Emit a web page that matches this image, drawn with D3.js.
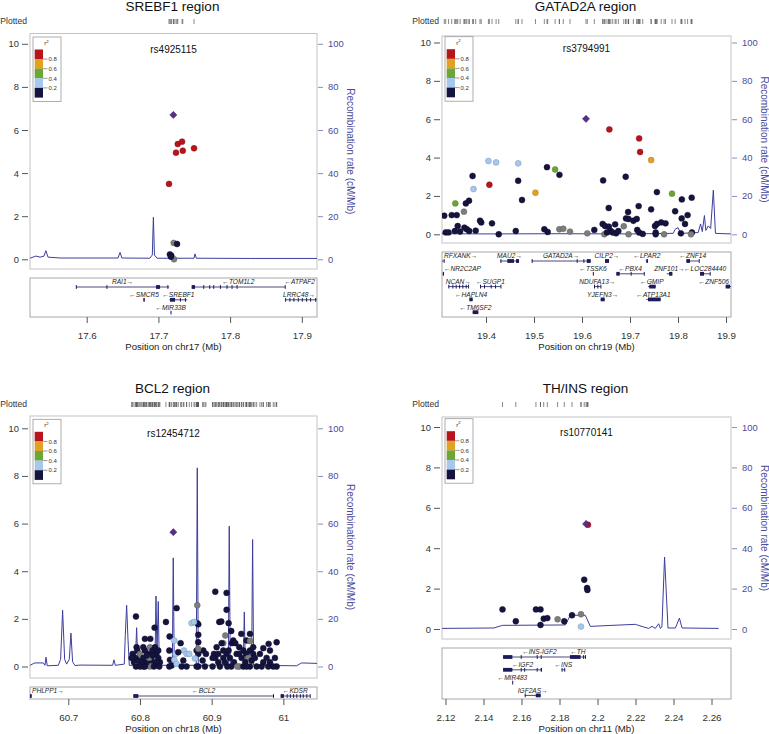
<!DOCTYPE html>
<html><head><meta charset="utf-8">
<script src="https://cdn.jsdelivr.net/npm/d3@7"></script>
<style>body{margin:0;background:#fff} svg{display:block;font-family:"Liberation Sans",Arial,Helvetica,sans-serif}</style>
</head><body><svg id="c" width="769" height="734"></svg>
<script>
// ---------------- DATA ----------------
const yTicks = [0, 2, 4, 6, 8, 10];
const yTickLabels = ["0", "2", "4", "6", "8", "10"];
const recTicks = [0, 20, 40, 60, 80, 100];
const recTickLabels = ["0", "20", "40", "60", "80", "100"];
const legendLabels = ["0.8", "0.6", "0.4", "0.2"];

// SREBF1 region (chr17)
const srebf1Pos  = [17.7148, 17.7245, 17.727, 17.733, 17.734, 17.7497, 17.7213, 17.726, 17.716, 17.718, 17.7218, 17.7175];
const srebf1LogP = [3.5, 4.95, 5.35, 5.46, 5.04, 5.15, 0.76, 0.71, 0.23, 0.17, 0.0, 0.12];
const srebf1R2   = [0.9, 0.9, 0.9, 0.9, 0.9, 0.9, null, 0.1, 0.1, 0.1, null, 0.1];
const srebf1Lead = [17.7208, 6.70];
const srebf1RecPos  = [17.521, 17.529, 17.535, 17.5405, 17.543, 17.546, 17.563, 17.6437, 17.6465, 17.649, 17.688, 17.6915, 17.693, 17.6945, 17.698, 17.7497, 17.751, 17.753, 17.828, 17.9215];
const srebf1RecRate = [0.5, 1.5, 1.0, 1.5, 4.0, 1.0, 0.6, 0.6, 3.2, 0.6, 0.5, 2.0, 19.5, 2.0, 0.5, 0.5, 2.5, 0.5, 0.4, 0.4];
const srebf1XTicks = [17.6, 17.7, 17.8, 17.9];
const srebf1XLabels = ["17.6", "17.7", "17.8", "17.9"];
const srebf1Genes = [
  {name: "RAI1", strand: "+", start: 17.5851, end: 17.7150, row: 0, exons: [[17.5848, 17.5856], [17.6275, 17.6281], [17.6967, 17.7023], [17.7125, 17.7133]]},
  {name: "TOM1L2", strand: "-", start: 17.7464, end: 17.8767, row: 0, exons: [[17.7464, 17.7511], [17.7625, 17.7630], [17.7708, 17.7713], [17.7765, 17.7770], [17.7858, 17.7863], [17.7950, 17.7955], [17.8020, 17.8025], [17.8090, 17.8095], [17.8762, 17.8767]]},
  {name: "ATPAF2", strand: "-", start: 17.9215, end: 17.9420, row: 0, exons: []},
  {name: "SMCR5", strand: "-", start: 17.6790, end: 17.6810, row: 1, exons: [[17.6790, 17.6810]]},
  {name: "SREBF1", strand: "-", start: 17.7153, end: 17.7404, row: 1, exons: [[17.7162, 17.7232], [17.7300, 17.7305], [17.7370, 17.7375]]},
  {name: "LRRC48", strand: "+", start: 17.8767, end: 17.9209, row: 1, exons: [[17.8767, 17.8771], [17.8827, 17.8831], [17.8883, 17.8887], [17.8944, 17.8948], [17.9000, 17.9004], [17.9060, 17.9064], [17.9116, 17.9120], [17.9186, 17.9190]]},
  {name: "MIR33B", strand: "-", start: 17.7169, end: 17.7173, row: 2, exons: [[17.7169, 17.7173]]}
];

// GATAD2A region (chr19)
const gatad2aPos = [19.657, 19.719, 19.721, 19.744, 19.407, 19.405, 19.421, 19.467, 19.374, 19.336, 19.544, 19.503, 19.7875,
  19.527, 19.553, 19.467, 19.475, 19.372, 19.644, 19.691, 19.756, 19.8285, 19.808, 19.3646, 19.358, 19.354, 19.313, 19.3285,
  19.339, 19.341, 19.6556, 19.696, 19.718, 19.744, 19.794, 19.82, 19.8077, 19.8146, 19.6917, 19.697, 19.707, 19.714, 19.3875,
  19.39, 19.4125, 19.643, 19.648, 19.656, 19.669, 19.687, 19.752, 19.756, 19.765, 19.774, 19.6256, 19.5528, 19.561, 19.575,
  19.611, 19.5215, 19.5285, 19.462, 19.4265, 19.316, 19.322, 19.335, 19.346, 19.355, 19.36, 19.365, 19.3785, 19.66, 19.664,
  19.671, 19.6465, 19.652, 19.6757, 19.697, 19.715, 19.719, 19.7265, 19.7535, 19.7535, 19.771, 19.806, 19.829, 19.827];
const gatad2aLogP = [5.47, 5.0, 4.29, 3.87, 2.58, 3.82, 3.75, 3.70, 2.36, 1.61, 3.38, 2.17, 2.12,
  3.5, 3.1, 2.79, 1.79, 3.04, 2.81, 3.0, 2.2, 1.91, 1.82, 1.75, 1.61, 1.18, 0.97, 1.0,
  1.0, 0.43, 1.37, 1.16, 1.47, 1.3, 1.2, 1.0, 0.83, 0.54, 0.83, 0.8, 0.71, 0.8, 0.71,
  0.62, 0.57, 0.54, 0.43, 0.4, 0.52, 0.42, 0.43, 0.54, 0.62, 0.57, 0.23, 0.26, 0.29, 0.14,
  0.05, 0.26, 0.12, 0.17, 0.0, 0.1, 0.1, 0.17, 0.14, 0.35, 0.26, 0.17, 0.19, 0.17, 0.09,
  0.05, 0.0, 0.1, 0.17, 0.0, 0.23, 0.09, 0.02, 0.09, 0.0, 0.0, 0.05, 0.1, 0.0];
const gatad2aR2 = [0.9, 0.9, 0.9, 0.7, 0.9, 0.3, 0.3, 0.3, 0.3, 0.5, 0.5, 0.7, 0.5,
  0.1, 0.1, 0.1, 0.1, 0.1, 0.1, 0.1, 0.1, 0.1, 0.1, 0.1, 0.1, null, 0.1, 0.1,
  0.1, 0.1, 0.1, 0.1, 0.1, 0.1, 0.1, 0.1, 0.1, 0.1, 0.1, 0.1, 0.1, 0.1, 0.1,
  0.1, 0.1, 0.1, 0.1, 0.1, 0.1, null, 0.1, 0.1, 0.1, 0.1, 0.1, null, null, null,
  null, 0.1, 0.1, 0.1, 0.1, 0.1, 0.1, 0.1, 0.1, 0.1, 0.1, 0.1, 0.1, 0.1, 0.1,
  0.1, null, 0.1, 0.1, null, 0.1, 0.1, 0.1, 0.1, 0.1, null, 0.1, 0.1, null];
const gatad2aLead = [19.6083, 6.02];
const gatad2aRecPos  = [19.308, 19.40, 19.55, 19.70, 19.790, 19.794, 19.800, 19.804, 19.8077, 19.842, 19.847, 19.8506, 19.855, 19.858, 19.863, 19.868, 19.8736, 19.878, 19.8875, 19.91];
const gatad2aRecRate = [0.3, 0.2, 0.3, 0.2, 0.5, 2.6, 3.5, 1.4, 0.5, 0.9, 5.4, 1.4, 9.8, 2.0, 4.4, 3.0, 23.0, 0.5, 0.4, 0.2];
const gatad2aXTicks = [19.4, 19.5, 19.6, 19.7, 19.8, 19.9];
const gatad2aXLabels = ["19.4", "19.5", "19.6", "19.7", "19.8", "19.9"];
const gatad2aGenes = [
  {name: "RFXANK", strand: "+", start: 19.3030, end: 19.3125, row: 0, exons: [[19.3118, 19.3125]]},
  {name: "MAU2", strand: "+", start: 19.4292, end: 19.4688, row: 0, exons: [[19.4300, 19.4305], [19.4444, 19.4583], [19.4625, 19.4688]]},
  {name: "GATAD2A", strand: "+", start: 19.4951, end: 19.6181, row: 0, exons: [[19.4951, 19.4955], [19.5889, 19.5894], [19.6028, 19.6040], [19.6100, 19.6181]]},
  {name: "CILP2", strand: "+", start: 19.6479, end: 19.6563, row: 0, exons: [[19.6479, 19.6563]]},
  {name: "LPAR2", strand: "-", start: 19.7326, end: 19.7375, row: 0, exons: [[19.7340, 19.7375]]},
  {name: "ZNF14", strand: "-", start: 19.8174, end: 19.8438, row: 0, exons: [[19.8174, 19.8250], [19.8432, 19.8438]]},
  {name: "NR2C2AP", strand: "-", start: 19.3100, end: 19.3125, row: 1, exons: [[19.3100, 19.3125]]},
  {name: "TSSK6", strand: "-", start: 19.6226, end: 19.6234, row: 1, exons: [[19.6226, 19.6234]]},
  {name: "PBX4", strand: "-", start: 19.6715, end: 19.7292, row: 1, exons: [[19.6715, 19.6785], [19.7014, 19.7019], [19.7287, 19.7292]]},
  {name: "ZNF101", strand: "+", start: 19.7764, end: 19.7882, row: 1, exons: [[19.7813, 19.7882]]},
  {name: "LOC284440", strand: "-", start: 19.8458, end: 19.8667, row: 1, exons: [[19.8458, 19.8542], [19.8660, 19.8667]]},
  {name: "NCAN", strand: "+", start: 19.3215, end: 19.3632, row: 2, exons: [[19.3215, 19.3221], [19.3299, 19.3305], [19.3368, 19.3374], [19.3438, 19.3444], [19.3507, 19.3513], [19.3576, 19.3582], [19.3626, 19.3632]]},
  {name: "SUGP1", strand: "-", start: 19.3875, end: 19.4306, row: 2, exons: [[19.3875, 19.3885], [19.3958, 19.3964], [19.4097, 19.4103], [19.4188, 19.4194], [19.4300, 19.4306]]},
  {name: "NDUFA13", strand: "+", start: 19.6250, end: 19.6389, row: 2, exons: [[19.6250, 19.6260], [19.6319, 19.6325], [19.6383, 19.6389]]},
  {name: "GMIP", strand: "-", start: 19.7375, end: 19.7535, row: 2, exons: [[19.7400, 19.7535]]},
  {name: "ZNF506", strand: "-", start: 19.8993, end: 19.9320, row: 2, exons: [[19.8993, 19.9083]]},
  {name: "HAPLN4", strand: "-", start: 19.3653, end: 19.3722, row: 3, exons: [[19.3653, 19.3722]]},
  {name: "YJEFN3", strand: "+", start: 19.6389, end: 19.6472, row: 3, exons: [[19.6389, 19.6472]]},
  {name: "ATP13A1", strand: "-", start: 19.7340, end: 19.7639, row: 3, exons: [[19.7375, 19.7639]]},
  {name: "TM6SF2", strand: "-", start: 19.3722, end: 19.3840, row: 4, exons: [[19.3722, 19.3840]]}
];

// BCL2 region (chr18)
const bcl2Pos = [60.7944, 60.8204, 60.8362, 60.8069, 60.8144, 60.7953, 60.7962, 60.7897, 60.7944, 60.7916,
  60.7962, 60.8000, 60.8046, 60.8069, 60.8116, 60.8139, 60.8176, 60.8209, 60.8223, 60.8255,
  60.8278, 60.8209, 60.8139, 60.8046, 60.7944, 60.8093, 60.8023, 60.8162, 60.8232, 60.8130,
  60.7883, 60.7976, 60.8255, 60.8176, 60.8093, 60.8000, 60.8069, 60.8195, 60.8269, 60.8046,
  60.8413, 60.8409, 60.8418, 60.8441, 60.8478, 60.8497, 60.8478, 60.8511, 60.8567, 60.8604,
  60.8613, 60.8650, 60.8688, 60.8581, 60.8511, 60.8534, 60.8650, 60.8409, 60.8799, 60.8799,
  60.8813, 60.8720, 60.8753, 60.8813, 60.8813, 60.8790, 60.8813, 60.8767, 60.8883, 60.8920,
  60.8813, 60.8906, 60.8790, 60.8874, 60.8813, 60.9050, 60.9208, 60.9208, 60.9106, 60.9134,
  60.9236, 60.9273, 60.9190, 60.9162, 60.9139, 60.9069, 60.9032, 60.9050, 60.9092, 60.9013,
  60.9115, 60.9162, 60.9208, 60.9236, 60.9283, 60.9301, 60.9329, 60.9255, 60.9311, 60.9273,
  60.9218, 60.9013, 60.9162, 60.9092, 60.9185, 60.9348, 60.9413, 60.9534, 60.9487, 60.9534,
  60.9385, 60.9441, 60.9487, 60.9534, 60.9580, 60.9418, 60.9510, 60.9557, 60.9603, 60.9385,
  60.9357, 60.9441, 60.9534, 60.9627, 60.9469, 60.9385, 60.9580, 60.9487, 60.9720, 60.9794,
  60.9813, 60.9906, 60.9673, 60.9766, 60.9882, 60.9720, 60.9813, 60.9906, 60.9859, 60.9789, 60.9697];
const bcl2LogP = [2.10, 1.63, 1.87, 1.16, 1.16, 0.81, 0.67, 0.53, 0.36, 0.18,
  0.04, 0.53, 0.36, 0.67, 0.53, 0.81, 0.67, 0.81, 0.53, 0.36,
  0.18, 0.04, 0.0, 0.0, 0.0, 0.18, 0.18, 0.25, 0.18, 0.36,
  0.36, 0.25, 0.67, 0.46, 0.46, 0.0, 0.0, 0.0, 0.0, 0.81,
  1.26, 0.67, 0.28, 0.04, 1.09, 0.53, 0.28, 0.11, 0.98, 0.25,
  0.67, 0.53, 0.53, 0.0, 2.45, 0.60, 0.0, 0.0, 2.57, 1.82,
  1.77, 1.82, 1.87, 1.33, 1.02, 0.67, 0.53, 0.34, 0.67, 0.53,
  0.0, 0.0, 0.0, 0.25, 0.74, 3.14, 3.09, 2.38, 1.87, 1.89,
  1.82, 1.49, 1.30, 0.98, 0.98, 0.81, 0.53, 0.36, 0.18, 0.0,
  0.0, 0.67, 0.53, 0.67, 0.98, 1.09, 0.98, 0.36, 0.18, 0.0,
  0.0, 0.36, 0.36, 0.53, 0.18, 0.53, 1.37, 1.37, 1.09, 1.07,
  0.81, 0.67, 0.53, 0.67, 0.53, 0.36, 0.36, 0.25, 0.36, 0.0,
  0.0, 0.0, 0.0, 0.0, 0.18, 0.53, 0.81, 0.0, 0.77, 0.95,
  0.67, 1.02, 0.53, 0.36, 0.36, 0.18, 0.18, 0.0, 0.0, 0.0, 0.0];
const bcl2R2 = [0.1, 0.1, 0.1, 0.1, 0.1, 0.1, 0.1, 0.1, 0.1, 0.1,
  null, null, 0.1, 0.1, 0.1, null, 0.1, 0.1, 0.1, 0.1,
  0.1, 0.1, null, 0.1, 0.1, 0.1, 0.1, 0.1, 0.1, null,
  0.1, 0.1, 0.1, 0.1, 0.1, 0.1, 0.1, 0.1, 0.1, 0.1,
  0.1, 0.1, 0.1, 0.1, 0.3, 0.3, 0.3, 0.3, 0.1, 0.1,
  0.3, 0.3, 0.3, 0.1, 0.1, 0.1, 0.1, 0.1, null, 0.1,
  0.1, 0.3, 0.3, 0.1, 0.1, 0.1, 0.1, 0.3, 0.1, 0.1,
  0.1, 0.1, 0.1, 0.1, null, 0.1, 0.1, 0.1, 0.1, 0.1,
  0.1, 0.1, null, null, 0.1, 0.1, 0.1, 0.1, 0.1, 0.1,
  0.1, 0.1, 0.1, 0.1, 0.1, 0.1, 0.1, 0.1, 0.1, 0.1,
  0.1, 0.1, 0.1, 0.1, 0.1, 0.1, 0.1, 0.1, 0.1, null,
  0.1, 0.1, 0.1, 0.1, 0.1, 0.1, null, 0.1, 0.1, null,
  null, 0.1, 0.1, 0.1, 0.1, 0.1, 0.1, 0.1, 0.1, 0.1,
  0.1, 0.1, 0.1, 0.1, 0.1, 0.1, 0.1, 0.1, 0.1, 0.1, 0.1];
const bcl2Lead = [60.8465, 5.64];
const bcl2RecPos = [60.6466, 60.6512, 60.6535, 60.6651, 60.6675, 60.6689, 60.6707, 60.6861, 60.6893, 60.6921,
  60.6949, 60.6977, 60.7014, 60.7037, 60.7060, 60.7093, 60.7163, 60.7618, 60.7637, 60.7656,
  60.7781, 60.7795, 60.7814, 60.7832, 60.7851, 60.7934, 60.7953, 60.7972, 60.8209, 60.8223,
  60.8237, 60.8255, 60.8269, 60.8451, 60.8464, 60.8478, 60.8785, 60.8799, 60.8813, 60.9232,
  60.9245, 60.9259, 60.9441, 60.9455, 60.9469, 60.9557, 60.9571, 60.9585, 61.0185, 61.0254, 61.0469];
const bcl2RecRate = [0.5, 1.2, 1.5, 1.5, 0.5, 3.9, 0.3, 0.5, 3.0, 23.6,
  3.0, 1.0, 3.0, 14.0, 2.0, 0.4, 0.6, 0.5, 2.8, 0.5,
  1.0, 13.0, 25.7, 12.0, 0.5, 0.5, 16.3, 0.5, 0.5, 29.6,
  5.0, 27.3, 0.5, 0.5, 45.6, 0.5, 0.5, 83.4, 0.5, 0.5,
  58.9, 0.5, 0.5, 22.9, 0.5, 0.5, 53.3, 0.5, 0.3, 1.5, 1.3];
const bcl2XTicks = [60.7, 60.8, 60.9, 61.0];
const bcl2XLabels = ["60.7", "60.8", "60.9", "61"];
const bcl2Genes = [
  {name: "PHLPP1", strand: "+", start: 60.3830, end: 60.6490, row: 0, exons: [[60.6466, 60.6490]]},
  {name: "BCL2", strand: "-", start: 60.7907, end: 60.9868, row: 0, exons: [[60.7907, 60.7977], [60.9855, 60.9868]]},
  {name: "KDSR", strand: "-", start: 60.9962, end: 61.0371, row: 0, exons: [[60.9962, 61.0008], [61.0046, 61.0050], [61.0090, 61.0094], [61.0135, 61.0139], [61.0180, 61.0184], [61.0230, 61.0234], [61.0270, 61.0274], [61.0320, 61.0324], [61.0367, 61.0371]]}
];

// TH/INS region (chr11)
const thinsPos  = [2.195, 2.193, 2.1945, 2.1947, 2.150, 2.1676, 2.170, 2.157, 2.170, 2.1717, 2.1736, 2.179, 2.1825, 2.1866, 2.1913, 2.1913];
const thinsLogP = [5.16, 2.44, 2.03, 1.93, 0.97, 0.97, 0.97, 0.38, 0.2, 0.51, 0.54, 0.48, 0.38, 0.68, 0.73, 0.12];
const thinsR2   = [0.9, 0.1, 0.1, 0.1, 0.1, 0.1, 0.1, 0.1, 0.1, 0.1, 0.1, null, 0.1, 0.1, null, 0.3];
const thinsLead = [2.194, 5.2];
const thinsRecPos  = [2.1182, 2.1454, 2.1500, 2.1831, 2.1857, 2.1936, 2.1962, 2.2076, 2.2199, 2.2243, 2.2269, 2.2287, 2.2304, 2.2322, 2.2331, 2.2339, 2.2353, 2.2371, 2.2410, 2.2431, 2.2445, 2.2638];
const thinsRecRate = [0.3, 0.5, 1.8, 2.0, 6.8, 6.8, 1.3, 1.8, 2.3, 1.0, 0.3, 1.3, 0.3, 2.6, 0.3, 1.0, 35.6, 0.5, 0.5, 5.4, 0.5, 0.3];
const thinsXTicks = [2.12, 2.14, 2.16, 2.18, 2.20, 2.22, 2.24, 2.26];
const thinsXLabels = ["2.12", "2.14", "2.16", "2.18", "2.2", "2.22", "2.24", "2.26"];
const thinsGenes = [
  {name: "INS-IGF2", strand: "-", start: 2.1503, end: 2.1885, row: 0, exons: [[2.1503, 2.1552], [2.1596, 2.1600], [2.1680, 2.1684], [2.1701, 2.1705], [2.1880, 2.1885]]},
  {name: "TH", strand: "-", start: 2.1855, end: 2.1938, row: 0, exons: [[2.1855, 2.1911], [2.1924, 2.1928], [2.1934, 2.1938]]},
  {name: "IGF2", strand: "-", start: 2.1503, end: 2.1708, row: 1, exons: [[2.1503, 2.1552], [2.1596, 2.1600], [2.1614, 2.1618], [2.1680, 2.1684], [2.1701, 2.1708]]},
  {name: "INS", strand: "-", start: 2.1811, end: 2.1829, row: 1, exons: [[2.1811, 2.1815], [2.1825, 2.1829]]},
  {name: "MIR483", strand: "-", start: 2.1551, end: 2.1553, row: 2, exons: [[2.1551, 2.1553]]},
  {name: "IGF2AS", strand: "+", start: 2.1617, end: 2.1701, row: 3, exons: [[2.1617, 2.1621], [2.1675, 2.1701]]}
];

// ---------------- STYLE / LAYOUT ----------------
const ldColors = ["#b8141c", "#e2a124", "#6ca636", "#a5c8ec", "#14143f"];
const noLdColor = "#7d7d7d";
const leadColor = "#5a2d86";
const recColor = "#3c3e9c";
const rightColor = "#4a4a9c";
function ldColor(r2) {
  if (r2 === null) return noLdColor;
  if (r2 >= 0.8) return ldColors[0];
  if (r2 >= 0.6) return ldColors[1];
  if (r2 >= 0.4) return ldColors[2];
  if (r2 >= 0.2) return ldColors[3];
  return ldColors[4];
}

const panels = [
  {title: "SREBF1 region", snp: "rs4925115", chrom: "chr17", pos: srebf1Pos, logp: srebf1LogP, r2: srebf1R2, lead: srebf1Lead,
   recPos: srebf1RecPos, recRate: srebf1RecRate, genes: srebf1Genes, xTicks: srebf1XTicks, xLabels: srebf1XLabels,
   xDomain: [17.5209, 17.9212], box: {l: 30, r: 317, t: 33.5, b: 269}, y0: 259.3, y10: 43.8,
   geneBox: {t: 278, b: 317}, titleY: 11, plottedY: 19, legendTop: 37},
  {title: "GATAD2A region", snp: "rs3794991", chrom: "chr19", pos: gatad2aPos, logp: gatad2aLogP, r2: gatad2aR2, lead: gatad2aLead,
   recPos: gatad2aRecPos, recRate: gatad2aRecRate, genes: gatad2aGenes, xTicks: gatad2aXTicks, xLabels: gatad2aXLabels,
   xDomain: [19.3083, 19.9104], box: {l: 442, r: 731, t: 36, b: 243}, y0: 234.3, y10: 42.5,
   geneBox: {t: 252, b: 317}, titleY: 11, plottedY: 19, legendTop: 36.7},
  {title: "BCL2 region", snp: "rs12454712", chrom: "chr18", pos: bcl2Pos, logp: bcl2LogP, r2: bcl2R2, lead: bcl2Lead,
   recPos: bcl2RecPos, recRate: bcl2RecRate, genes: bcl2Genes, xTicks: bcl2XTicks, xLabels: bcl2XLabels,
   xDomain: [60.6466, 61.0469], box: {l: 30, r: 317, t: 416, b: 678}, y0: 666.5, y10: 428.3,
   geneBox: {t: 687, b: 699}, titleY: 393.3, plottedY: 402, legendTop: 419.3},
  {title: "TH/INS region", snp: "rs10770141", chrom: "chr11", pos: thinsPos, logp: thinsLogP, r2: thinsR2, lead: thinsLead,
   recPos: thinsRecPos, recRate: thinsRecRate, genes: thinsGenes, xTicks: thinsXTicks, xLabels: thinsXLabels,
   xDomain: [2.11816, 2.27026], box: {l: 442, r: 731, t: 417, b: 639}, y0: 629, y10: 427,
   geneBox: {t: 648, b: 699}, titleY: 393.3, plottedY: 402, legendTop: 418.7}
];

const svg = d3.select("#c");
const defs = svg.append("defs");

panels.forEach((p, idx) => {
  const g = svg.append("g");
  const x = d3.scaleLinear().domain(p.xDomain).range([p.box.l, p.box.r]);
  const y = d3.scaleLinear().domain([0, 10]).range([p.y0, p.y10]);
  const yR = d3.scaleLinear().domain([0, 100]).range([p.y0, p.y10]);
  const cx = (p.box.l + p.box.r) / 2;

  defs.append("clipPath").attr("id", "pc" + idx).append("rect")
    .attr("x", p.box.l).attr("y", p.box.t).attr("width", p.box.r - p.box.l).attr("height", p.box.b - p.box.t);
  defs.append("clipPath").attr("id", "gc" + idx).append("rect")
    .attr("x", p.box.l).attr("y", p.geneBox.t).attr("width", p.box.r - p.box.l).attr("height", p.geneBox.b - p.geneBox.t);

  // title
  g.append("text").attr("x", cx - 1).attr("y", p.titleY).attr("text-anchor", "middle")
    .attr("font-size", 13.5).attr("fill", "#111").text(p.title);

  // plotted
  g.append("text").attr("x", p.box.l - 3).attr("y", p.plottedY + 5.3).attr("text-anchor", "end")
    .attr("font-size", 8.6).attr("fill", "#333").text("Plotted");
  const allPos = p.pos.concat([p.lead[0]]);
  g.append("g").selectAll("line").data(allPos).join("line")
    .attr("x1", d => x(d)).attr("x2", d => x(d))
    .attr("y1", p.plottedY).attr("y2", p.plottedY + 5)
    .attr("stroke", "#555").attr("stroke-width", 0.7);

  // frame
  g.append("rect").attr("x", p.box.l).attr("y", p.box.t)
    .attr("width", p.box.r - p.box.l).attr("height", p.box.b - p.box.t)
    .attr("fill", "none").attr("stroke", "#c4c4c4").attr("stroke-width", 1);

  // recombination line
  const recData = p.recPos.map((d, i) => [d, p.recRate[i]]);
  g.append("path").datum(recData).attr("clip-path", `url(#pc${idx})`)
    .attr("fill", "none").attr("stroke", recColor).attr("stroke-width", 1)
    .attr("d", d3.line().x(d => x(d[0])).y(d => yR(d[1])));

  // points
  const pts = p.pos.map((d, i) => ({pos: d, logp: p.logp[i], r2: p.r2[i]}));
  g.append("g").attr("clip-path", `url(#pc${idx})`).selectAll("circle").data(pts).join("circle")
    .attr("cx", d => x(d.pos)).attr("cy", d => y(d.logp)).attr("r", 2.95)
    .attr("fill", d => ldColor(d.r2))
    .attr("stroke", d => d3.color(ldColor(d.r2)).darker(0.8)).attr("stroke-width", 0.5);

  // lead SNP (square rotated 45 degrees)
  g.append("path").attr("d", d3.symbol().type(d3.symbolSquare).size(26)())
    .attr("transform", `translate(${x(p.lead[0])},${y(p.lead[1])}) rotate(45)`)
    .attr("fill", leadColor).attr("stroke", "#3a1a5a").attr("stroke-width", 0.4);

  // rsid label
  g.append("text").attr("x", cx).attr("y", p.y10 + 9).attr("text-anchor", "middle")
    .attr("font-size", 10).attr("fill", "#111").text(p.snp);

  // legend
  const lx = p.box.l + 3, ly = p.legendTop;
  const lg = g.append("g");
  lg.append("rect").attr("x", lx).attr("y", ly).attr("width", 28).attr("height", 64.5)
    .attr("fill", "#fff").attr("stroke", "#999").attr("stroke-width", 0.8);
  const rt = lg.append("text").attr("x", lx + 13.5).attr("y", ly + 8).attr("text-anchor", "middle")
    .attr("font-size", 6).attr("fill", "#222");
  rt.append("tspan").text("r");
  rt.append("tspan").attr("font-size", 4.2).attr("dy", -2.5).text("2");
  lg.selectAll("rect.ld").data(ldColors).join("rect").attr("class", "ld")
    .attr("x", lx + 1.7).attr("y", (d, i) => ly + 12.5 + i * 9.6).attr("width", 8.3).attr("height", 9.7)
    .attr("fill", d => d);
  lg.selectAll("line.lt").data(legendLabels).join("line").attr("class", "lt")
    .attr("x1", lx + 10).attr("x2", lx + 14.5)
    .attr("y1", (d, i) => ly + 12.5 + (i + 1) * 9.6).attr("y2", (d, i) => ly + 12.5 + (i + 1) * 9.6)
    .attr("stroke", "#555").attr("stroke-width", 0.6);
  lg.selectAll("text.ll").data(legendLabels).join("text").attr("class", "ll")
    .attr("x", lx + 15.5).attr("y", (d, i) => ly + 12.5 + (i + 1) * 9.6 + 2.2)
    .attr("font-size", 6).attr("fill", "#333").text(d => d);

  // left axis
  const la = g.append("g").attr("transform", `translate(${p.box.l - 2},0)`)
    .call(d3.axisLeft(y).tickValues(yTicks).tickFormat((d, i) => yTickLabels[i]).tickSize(6).tickPadding(3));
  la.select(".domain").remove();
  la.selectAll("line").attr("stroke", "#555");
  la.selectAll("text").attr("font-size", 9.4).attr("fill", "#333").attr("font-family", null);

  // right axis
  const ra = g.append("g").attr("transform", `translate(${p.box.r + 1},0)`)
    .call(d3.axisRight(yR).tickValues(recTicks).tickFormat((d, i) => recTickLabels[i]).tickSize(5).tickPadding(5));
  ra.select(".domain").remove();
  ra.selectAll("line").attr("stroke", "#8c8cc0");
  ra.selectAll("text").attr("font-size", 9.4).attr("fill", rightColor).attr("font-family", null);
  g.append("text").attr("transform", `translate(${p.box.r + 30},${(p.box.t + p.box.b) / 2}) rotate(90)`)
    .attr("text-anchor", "middle").attr("font-size", 10).attr("fill", rightColor)
    .text("Recombination rate (cM/Mb)");

  // gene panel
  g.append("rect").attr("x", p.box.l).attr("y", p.geneBox.t)
    .attr("width", p.box.r - p.box.l).attr("height", p.geneBox.b - p.geneBox.t)
    .attr("fill", "none").attr("stroke", "#a8a8a8").attr("stroke-width", 1);
  const gg = g.append("g");
  const gclip = gg.append("g").attr("clip-path", `url(#gc${idx})`);
  p.genes.forEach(gene => {
    const ly0 = p.geneBox.t + 9 + gene.row * 12.8;
    gclip.append("line").attr("x1", x(gene.start)).attr("x2", x(gene.end))
      .attr("y1", ly0).attr("y2", ly0).attr("stroke", "#1c1c5a").attr("stroke-width", 0.8);
    gclip.selectAll(null).data(gene.exons).join("rect")
      .attr("x", d => x(d[0])).attr("y", ly0 - 1.9)
      .attr("width", d => Math.max(1, x(d[1]) - x(d[0]))).attr("height", 3.8)
      .attr("fill", "#1c1c5a");
    const label = gene.strand === "+" ? gene.name + "\u2192" : "\u2190" + gene.name;
    const t = gg.append("text").attr("y", ly0 - 2.6).attr("font-size", 6.6).attr("font-style", "italic")
      .attr("fill", "#222").text(label);
    const w = t.node().getComputedTextLength();
    const c = x((gene.start + gene.end) / 2);
    let left = c - w / 2;
    left = Math.max(p.box.l + 2, Math.min(p.box.r - 2 - w, left));
    t.attr("x", left);
  });

  // bottom axis
  const ba = g.append("g").attr("transform", `translate(0,${p.geneBox.b})`)
    .call(d3.axisBottom(x).tickValues(p.xTicks).tickFormat((d, i) => p.xLabels[i]).tickSize(6).tickPadding(9));
  ba.select(".domain").remove();
  ba.selectAll("line").attr("stroke", "#555");
  ba.selectAll("text").attr("font-size", 9.8).attr("fill", "#333").attr("font-family", null);
  g.append("text").attr("x", cx).attr("y", p.geneBox.b + 33).attr("text-anchor", "middle")
    .attr("font-size", 9.6).attr("fill", "#222").text("Position on " + p.chrom + " (Mb)");
});
</script>
</body></html>
